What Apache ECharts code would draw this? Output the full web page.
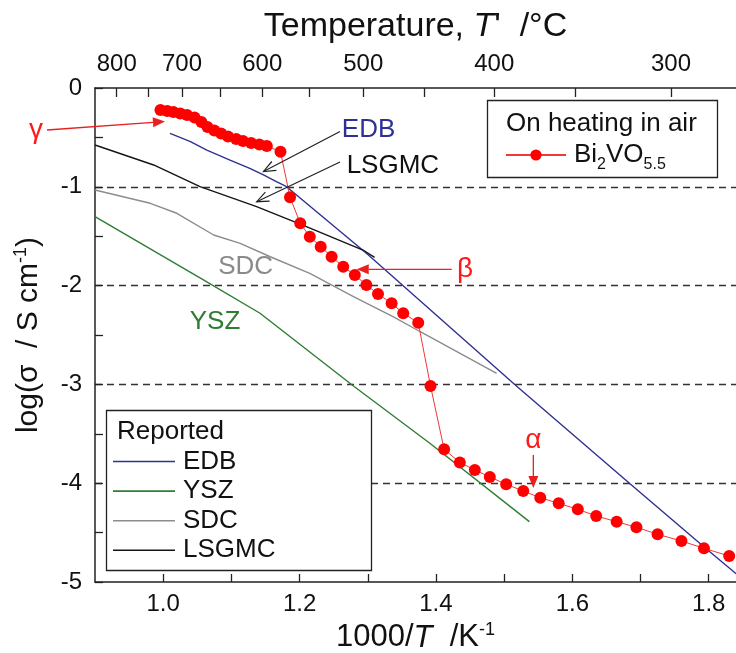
<!DOCTYPE html>
<html>
<head>
<meta charset="utf-8">
<script src="https://cdn.jsdelivr.net/npm/echarts@6/dist/echarts.min.js"></script>
<style>
  html, body { margin: 0; padding: 0; background: #fff; }
  #chart { width: 736px; height: 653px; }
</style>
</head>
<body>
<div id="chart"></div>
<script>
// Conductivity data: [1000/T (K^-1), log(sigma / S cm^-1)]
const edb = [[1.010,-0.459],[1.040,-0.543],[1.064,-0.628],[1.098,-0.729],[1.127,-0.813],[1.147,-0.880],
  [1.166,-0.948],[1.181,-0.999],[1.298,-1.673],[1.518,-3.016],[1.685,-4.008],[1.795,-4.656],[1.860,-5.030]];
const ysz = [[0.900,-1.302],[1.059,-1.943],[1.142,-2.280],[1.279,-3.016],[1.391,-3.596],[1.537,-4.389]];
const sdc = [[0.900,-1.032],[0.981,-1.167],[1.020,-1.268],[1.074,-1.488],[1.113,-1.572],[1.157,-1.708],
  [1.215,-1.876],[1.279,-2.112],[1.337,-2.315],[1.377,-2.467],[1.489,-2.888]];
const lsgmc = [[0.900,-0.577],[0.986,-0.779],[1.054,-0.999],[1.137,-1.201],[1.210,-1.404],[1.293,-1.640],[1.310,-1.714]];
const bi2vo = [[0.996,-0.223],[1.006,-0.233],[1.015,-0.243],[1.025,-0.258],[1.035,-0.273],[1.046,-0.299],
  [1.056,-0.344],[1.065,-0.395],[1.075,-0.430],[1.085,-0.461],[1.095,-0.491],[1.107,-0.516],[1.117,-0.536],
  [1.129,-0.557],[1.141,-0.572],[1.152,-0.587],[1.172,-0.645],
  [1.186,-1.106],[1.201,-1.369],[1.215,-1.505],[1.231,-1.606],[1.247,-1.707],[1.264,-1.809],[1.281,-1.893],
  [1.298,-1.994],[1.315,-2.085],[1.335,-2.179],[1.352,-2.280],[1.374,-2.375],
  [1.392,-3.016],[1.412,-3.657],[1.435,-3.790],[1.457,-3.866],[1.479,-3.937],[1.503,-4.011],[1.528,-4.079],
  [1.553,-4.147],[1.580,-4.204],[1.608,-4.264],[1.635,-4.332],[1.665,-4.390],[1.694,-4.446],[1.725,-4.517],
  [1.760,-4.585],[1.793,-4.659],[1.830,-4.737]];

// Axis ticks and labels
const invTTicks = [1.0, 1.1, 1.2, 1.3, 1.4, 1.5, 1.6, 1.7, 1.8];
const invTLabels = [1.0, 1.2, 1.4, 1.6, 1.8];
const tempTicks = [800, 750, 700, 650, 600, 550, 500, 450, 400, 350, 300];
const tempLabels = [800, 700, 600, 500, 400, 300];

// Annotation anchors in data units
const seriesNotes = [
  { text: 'EDB', at: [1.262, -0.425], color: '#2e3192', align: 'left' },
  { text: 'LSGMC', at: [1.269, -0.789], color: '#111111', align: 'left' },
  { text: 'SDC', at: [1.121, -1.809], color: '#8a8a8a', align: 'center' },
  { text: 'YSZ', at: [1.076, -2.365], color: '#2e7d32', align: 'center' }
];
const phaseNotes = [
  { text: 'γ', at: [0.8135, -0.425] },
  { text: 'β', at: [1.4426, -1.832] },
  { text: 'α', at: [1.5428, -3.563] }
];
const pointerArrows = [
  { from: [1.2593, -0.440], to: [1.1471, -0.845] },
  { from: [1.2593, -0.749], to: [1.1371, -1.151] }
];
const phaseArrows = [
  { from: [0.8296, -0.425], to: [1.0026, -0.339] },
  { from: [1.4231, -1.835], to: [1.2838, -1.835] },
  { from: [1.5428, -3.715], to: [1.5428, -4.049] }
];

const FONT = '"Liberation Sans", Arial, sans-serif';
const tempToInv = t => 1000 / (t + 273.15);

const chart = echarts.init(document.getElementById('chart'), null, { renderer: 'canvas' });

const option = {
  animation: false,
  backgroundColor: '#fff',
  textStyle: { fontFamily: FONT },
  grid: { left: 95, right: 0, top: 88, bottom: 71, outerBoundsMode: 'none', containLabel: false },
  xAxis: [
    {
      type: 'value', position: 'bottom', min: 0.9, max: 1.84,
      name: '1000/{i|T}  /K{sup|-1}', nameLocation: 'middle', nameGap: 28,
      nameTextStyle: {
        fontFamily: FONT, fontSize: 31, color: '#111', lineHeight: 34,
        rich: {
          i: { fontFamily: FONT, fontSize: 31, fontStyle: 'italic', color: '#111', lineHeight: 34 },
          sup: { fontFamily: FONT, fontSize: 18, color: '#111', verticalAlign: 'top', lineHeight: 18 }
        }
      },
      axisLine: { show: true, onZero: false, lineStyle: { color: '#222', width: 1.5 } },
      axisTick: { show: true, inside: true, length: 8, customValues: invTTicks, lineStyle: { color: '#222', width: 1.3 } },
      axisLabel: { customValues: invTLabels, formatter: v => v.toFixed(1), fontSize: 24, color: '#111', margin: 10, fontFamily: FONT },
      splitLine: { show: false }
    },
    {
      type: 'value', position: 'top', min: 0.9, max: 1.84,
      name: "Temperature, {i|T}'  /°C", nameLocation: 'middle', nameGap: 44,
      nameTextStyle: {
        fontFamily: FONT, fontSize: 34, color: '#111',
        rich: { i: { fontFamily: FONT, fontSize: 34, fontStyle: 'italic', color: '#111' } }
      },
      axisLine: { show: true, onZero: false, lineStyle: { color: '#222', width: 1.5 } },
      axisTick: { show: true, inside: true, length: 9, customValues: tempTicks.map(tempToInv), lineStyle: { color: '#222', width: 1.3 } },
      axisLabel: {
        customValues: tempLabels.map(tempToInv),
        formatter: v => String(Math.round(1000 / v - 273.15)),
        fontSize: 24, color: '#111', margin: 12, fontFamily: FONT
      },
      splitLine: { show: false }
    }
  ],
  yAxis: {
    type: 'value', min: -5, max: 0, interval: 1,
    name: 'log(σ  / S cm{sup|-1})', nameLocation: 'middle', nameGap: 50,
    nameTextStyle: {
      fontFamily: FONT, fontSize: 30, color: '#111', lineHeight: 33,
      rich: { sup: { fontFamily: FONT, fontSize: 18, color: '#111', verticalAlign: 'top', lineHeight: 18 } }
    },
    axisLine: { show: true, onZero: false, lineStyle: { color: '#222', width: 1.5 } },
    axisTick: { show: true, inside: true, length: 8, lineStyle: { color: '#222', width: 1.3 } },
    minorTick: { show: true, splitNumber: 2, length: 8, lineStyle: { color: '#222', width: 1.3 } },
    axisLabel: { formatter: v => String(v), fontSize: 24, color: '#111', margin: 13, fontFamily: FONT },
    splitLine: { show: true, showMinLine: false, showMaxLine: false, lineStyle: { color: '#333', width: 1.4, type: [7, 5] } }
  },
  legend: [
    {
      data: [{ name: 'EDB' }, { name: 'YSZ' }, { name: 'SDC' }, { name: 'LSGMC' }],
      orient: 'vertical', left: 113, top: 447, padding: 0, z: 20,
      icon: 'rect', itemWidth: 62, itemHeight: 1.6, itemGap: 0.6,
      selectedMode: false,
      textStyle: { fontFamily: FONT, fontSize: 26, lineHeight: 29, color: '#111', padding: [0, 0, 0, 3] }
    },
    {
      data: [{ name: 'Bi2VO5.5' }],
      orient: 'vertical', left: 505, top: 137, padding: 0, z: 20,
      itemWidth: 60, itemHeight: 14, selectedMode: false,
      formatter: () => 'Bi{sub|2}VO{sub|5.5}',
      textStyle: {
        fontFamily: FONT, fontSize: 26, lineHeight: 36, color: '#111', padding: [0, 0, 0, 3],
        rich: { sub: { fontFamily: FONT, fontSize: 16, lineHeight: 11, color: '#111', verticalAlign: 'bottom' } }
      }
    }
  ],
  series: [
    { name: 'EDB', type: 'line', data: edb, symbol: 'none', lineStyle: { color: '#2e3192', width: 1.4 }, itemStyle: { color: '#2e3192' }, z: 3 },
    { name: 'YSZ', type: 'line', data: ysz, symbol: 'none', lineStyle: { color: '#2e7d32', width: 1.4 }, itemStyle: { color: '#2e7d32' }, z: 3 },
    { name: 'SDC', type: 'line', data: sdc, symbol: 'none', lineStyle: { color: '#8c8c8c', width: 1.4 }, itemStyle: { color: '#8c8c8c' }, z: 3 },
    { name: 'LSGMC', type: 'line', data: lsgmc, symbol: 'none', lineStyle: { color: '#151515', width: 1.4 }, itemStyle: { color: '#151515' }, z: 3 },
    {
      name: 'Bi2VO5.5', type: 'line', data: bi2vo, symbol: 'circle', symbolSize: 12, showAllSymbol: true,
      lineStyle: { color: '#f03838', width: 1 }, itemStyle: { color: '#ff0000' }, z: 4
    }
  ]
};

chart.setOption(option);

// Text labels and arrows placed through the grid's coordinate system
const toPx = p => chart.convertToPixel({ gridIndex: 0 }, p);

function arrowElements(a, color, filled) {
  const [x1, y1] = toPx(a.from);
  const [x2, y2] = toPx(a.to);
  const ang = Math.atan2(y2 - y1, x2 - x1);
  const L = 12, W = 5;
  const bx = x2 - L * Math.cos(ang), by = y2 - L * Math.sin(ang);
  const lx = bx + W * Math.sin(ang), ly = by - W * Math.cos(ang);
  const rx = bx - W * Math.sin(ang), ry = by + W * Math.cos(ang);
  const els = [{
    type: 'line', z: 100, silent: true,
    shape: { x1, y1, x2: filled ? bx : x2, y2: filled ? by : y2 },
    style: { stroke: color, lineWidth: filled ? 1.3 : 1.2 }
  }];
  if (filled) {
    els.push({ type: 'polygon', z: 100, silent: true, shape: { points: [[x2, y2], [lx, ly], [rx, ry]] }, style: { fill: color } });
  } else {
    els.push({ type: 'polyline', z: 100, silent: true, shape: { points: [[lx, ly], [x2, y2], [rx, ry]] }, style: { stroke: color, lineWidth: 1.2, fill: null } });
  }
  return els;
}

const graphics = [];
seriesNotes.forEach(n => {
  const [x, y] = toPx(n.at);
  graphics.push({ type: 'text', z: 100, silent: true, x, y,
    style: { text: n.text, fill: n.color, font: '26px ' + FONT, align: n.align, verticalAlign: 'middle' } });
});
phaseNotes.forEach(n => {
  const [x, y] = toPx(n.at);
  graphics.push({ type: 'text', z: 100, silent: true, x, y,
    style: { text: n.text, fill: '#ff1a1a', font: '28px ' + FONT, align: 'center', verticalAlign: 'middle' } });
});
pointerArrows.forEach(a => graphics.push(...arrowElements(a, '#222', false)));
phaseArrows.forEach(a => graphics.push(...arrowElements(a, '#e82020', true)));

// Legend frames (opaque, above the grid lines, below the legend items) and headings
graphics.push({ type: 'rect', z: 1, silent: true, shape: { x: 106.5, y: 410.5, width: 265, height: 160 },
  style: { fill: '#fff', stroke: '#222', lineWidth: 1.3 } });
graphics.push({ type: 'text', z: 100, silent: true, x: 117, y: 432,
  style: { text: 'Reported', fill: '#111', font: '26px ' + FONT, align: 'left', verticalAlign: 'middle' } });
graphics.push({ type: 'rect', z: 1, silent: true, shape: { x: 487.5, y: 100.5, width: 230, height: 77 },
  style: { fill: '#fff', stroke: '#222', lineWidth: 1.3 } });
graphics.push({ type: 'text', z: 100, silent: true, x: 506, y: 124,
  style: { text: 'On heating in air', fill: '#111', font: '26px ' + FONT, align: 'left', verticalAlign: 'middle' } });

chart.setOption({ graphic: { elements: graphics } });
</script>
</body>
</html>
